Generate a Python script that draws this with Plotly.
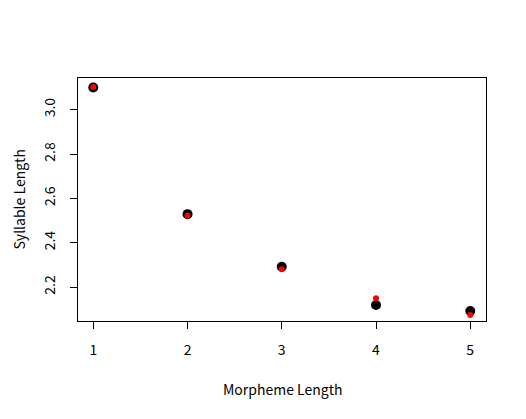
import plotly.graph_objects as go

morpheme_length = [1, 2, 3, 4, 5]
syllable_observed = [3.100, 2.529, 2.292, 2.119, 2.092]
syllable_fitted = [3.102, 2.523, 2.280, 2.150, 2.074]

x_ticks = [1, 2, 3, 4, 5]
y_ticks = [2.2, 2.4, 2.6, 2.8, 3.0]
y_tick_text = ["2.2", "2.4", "2.6", "2.8", "3.0"]

FONT = "Noto Sans CJK JP"

fig = go.Figure()
fig.add_trace(go.Scatter(x=morpheme_length, y=syllable_observed, mode="markers",
                         marker=dict(color="black", size=10), showlegend=False))
fig.add_trace(go.Scatter(x=morpheme_length, y=syllable_fitted, mode="markers",
                         marker=dict(color="red", size=6), showlegend=False))

# page body has an 8px offset; compensate in margins
OFF = 8
W, H = 526, 419
L, R, T, B = 78 - OFF, 40 + OFF, 78 - OFF, 98 + OFF
fig.update_layout(
    width=W, height=H,
    margin=dict(l=L, r=R, t=T, b=B, pad=0, autoexpand=False),
    paper_bgcolor="white", plot_bgcolor="white",
    font=dict(family=FONT, size=13, color="black"),
    xaxis=dict(range=[0.838, 5.167], tickvals=x_ticks, ticks="outside", ticklen=7,
               tickcolor="black", showline=True, linecolor="black", linewidth=1,
               mirror=True, showgrid=False, zeroline=False, automargin=False,
               ticklabelstandoff=9,
               tickfont=dict(family=FONT, size=14)),
    yaxis=dict(range=[2.047, 3.143], tickvals=y_ticks, ticktext=y_tick_text,
               ticks="outside", ticklen=7, tickangle=-90, automargin=False,
               ticklabelstandoff=9,
               tickcolor="black", showline=True, linecolor="black", linewidth=1,
               mirror=True, showgrid=False, zeroline=False,
               tickfont=dict(family=FONT, size=14)),
)
ph = H - T - B
pw = W - L - R
# target page positions (reference): x-title center y=389, y-title center x~17
fig.add_annotation(text="Morpheme Length", xref="paper", yref="paper",
                   x=0.5, y=-(389 - 321) / ph, xanchor="center", yanchor="middle",
                   showarrow=False, font=dict(family=FONT, size=14))
fig.add_annotation(text="Syllable Length", xref="paper", yref="paper",
                   x=-(78 - 18) / pw, y=0.5, xanchor="center", yanchor="middle",
                   textangle=-90, showarrow=False, font=dict(family=FONT, size=14))

fig.write_html("out.html")
